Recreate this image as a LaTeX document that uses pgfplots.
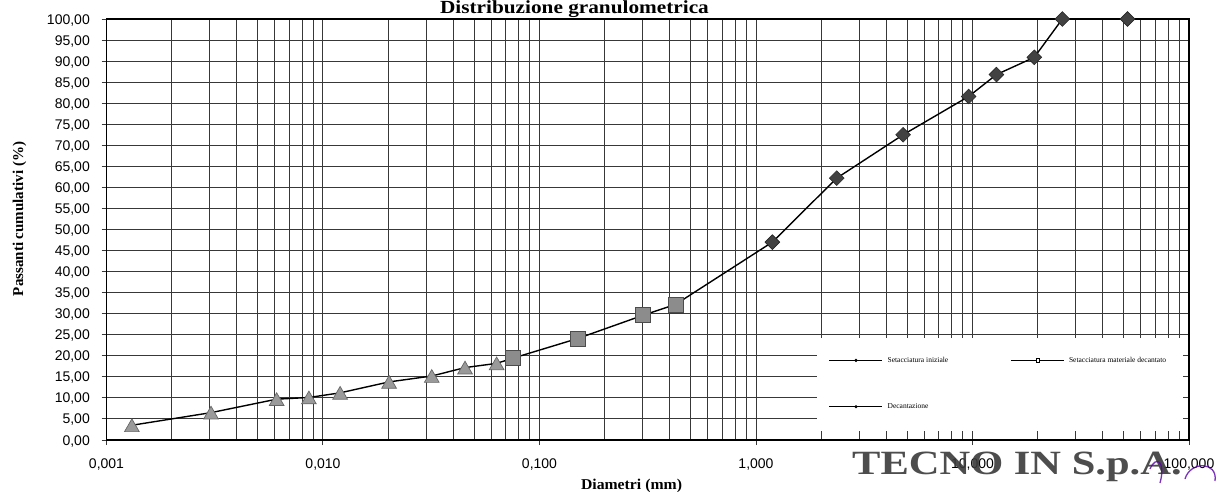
\documentclass[border=0pt]{standalone}
\usepackage{fontspec}
\setmainfont{Liberation Serif}
\setsansfont{Liberation Sans}
\usepackage{pgfplots}
\pgfplotsset{compat=1.18}

\definecolor{gridc}{HTML}{383838}
\definecolor{trifill}{HTML}{9A9A9A}
\definecolor{sqfill}{HTML}{8C8C8C}
\definecolor{diafill}{HTML}{424242}
\definecolor{stampc}{HTML}{3A3A3A}

\begin{document}
\begin{tikzpicture}[x=1pt,y=1pt]
\useasboundingbox (0,0) rectangle (1221,491);
\begin{axis}[
  at={(106.5pt,51pt)}, anchor=south west,
  scale only axis, width=1082.5pt, height=421pt,
  xmode=log, xmin=0.001, xmax=100, ymin=0, ymax=100,
  xtick={0.001,0.01,0.1,1,10,100},
  xticklabels={{0,001},{0,010},{0,100},{1,000},{10,000},{100,000}},
  minor xtick={0.002,0.003,0.004,0.005,0.006,0.007,0.008,0.009,
               0.02,0.03,0.04,0.05,0.06,0.07,0.08,0.09,
               0.2,0.3,0.4,0.5,0.6,0.7,0.8,0.9,
               2,3,4,5,6,7,8,9,20,30,40,50,60,70,80,90},
  ytick={0,5,...,100},
  yticklabels={{0,00},{5,00},{10,00},{15,00},{20,00},{25,00},{30,00},
               {35,00},{40,00},{45,00},{50,00},{55,00},{60,00},{65,00},
               {70,00},{75,00},{80,00},{85,00},{90,00},{95,00},{100,00}},
  grid=both,
  major grid style={gridc, line width=1pt},
  minor grid style={gridc, line width=1pt},
  tick pos=left, tick align=outside,
  major tick length=5pt, minor tick length=0pt,
  tick style={gridc, line width=1pt},
  axis line style={black, line width=1.4pt},
  xticklabel style={font=\sffamily\fontsize{14}{14}\selectfont, anchor=base, inner sep=0pt, yshift=-23pt},
  yticklabel style={font=\sffamily\fontsize{14}{14}\selectfont, anchor=base east, inner sep=0pt, xshift=-11.5pt, yshift=-5pt},
  every axis title shift=0pt,
  title={\scalebox{1.15}[1]{Distribuzione granulometrica}},
  title style={at={(0.4323,1.0119)}, anchor=base, inner sep=0pt, font=\bfseries\fontsize{18.5}{18.5}\selectfont},
  xlabel={\scalebox{1.05}[1]{Diametri (mm)}},
  xlabel style={at={(0.485,-0.1164)}, anchor=base, inner sep=0pt, font=\bfseries\fontsize{15}{15}\selectfont},
  ylabel={Passanti cumulativi (\%)},
  ylabel style={at={(-0.0771,0.5249)}, anchor=base, rotate=0, inner sep=0pt, font=\bfseries\fontsize{15}{15}\selectfont},
  legend columns=2,
  legend cell align=left,
  legend style={at={(0.6564,0.021)}, anchor=south west, draw=none, fill=white,
                inner sep=0pt, column sep=0pt, row sep=0pt,
                nodes={inner sep=0pt},
                font=\fontsize{7.5}{8}\selectfont},
]
% connecting line through the whole grading curve
\addplot[black, line width=1.4pt, forget plot] coordinates {
  (0.00131,3.5) (0.00304,6.5) (0.00611,9.7) (0.00861,10.1) (0.0120,11.2)
  (0.0202,13.8) (0.0318,15.2) (0.0453,17.2) (0.0634,18.2)
  (0.075,19.4) (0.15,24.1) (0.30,29.6) (0.425,32.2)
  (1.19,47.0) (2.36,62.2) (4.78,72.5) (9.6,81.6) (12.9,86.8)
  (19.3,90.9) (26.0,100.0) (52.0,100.0)
};
% sieving of the initial sample
\addplot[only marks, mark=square*, mark size=5.2pt,
  mark options={rotate=45, fill=diafill, draw=black!85, line width=0.6pt},
  legend image code/.code={
    \path (-12pt,-24pt) (58pt,22pt);
    \draw[black, line width=1.3pt] (0pt,0pt) -- (53pt,0pt);
    \fill[black] (26.5pt,0pt) circle (1.4pt);
  }] coordinates {
  (1.19,47.0) (2.36,62.2) (4.78,72.5) (9.6,81.6) (12.9,86.8)
  (19.3,90.9) (26.0,100.0) (52.0,100.0)
};
\addlegendentry{\makebox[111pt][l]{Setacciatura iniziale}}
% sieving of the decanted material
\addplot[only marks, mark=square*, mark size=7.5pt,
  mark options={fill=sqfill, draw=black!70, line width=0.8pt},
  legend image code/.code={
    \path (-12pt,-24pt) (58pt,22pt);
    \draw[black, line width=1.3pt] (0pt,0pt) -- (53pt,0pt);
    \filldraw[fill=white, draw=black, line width=0.6pt] (25pt,-1.6pt) rectangle (28.2pt,1.6pt);
  }] coordinates {
  (0.075,19.4) (0.15,24.1) (0.30,29.6) (0.425,32.2)
};
\addlegendentry{\makebox[114pt][l]{Setacciatura materiale decantato}}
% sedimentation
\addplot[only marks, mark=triangle*, mark size=8.5pt,
  mark options={fill=trifill, draw=black!60, line width=0.7pt, yshift=-2.1pt},
  legend image code/.code={
    \path (-12pt,-24pt) (58pt,22pt);
    \draw[black, line width=1.3pt] (0pt,0pt) -- (53pt,0pt);
    \fill[black] (26.5pt,0pt) circle (1.4pt);
  }] coordinates {
  (0.00131,3.5) (0.00304,6.5) (0.00611,9.7) (0.00861,10.1) (0.0120,11.2)
  (0.0202,13.8) (0.0318,15.2) (0.0453,17.2) (0.0634,18.2)
};
\addlegendentry{Decantazione}
\end{axis}
% company stamp
\node[anchor=base west, inner sep=0pt, text=stampc, opacity=0.9,
      font=\bfseries\fontsize{34}{34}\selectfont] at (852,17)
  {\scalebox{1.25}[1]{TECNO IN S.p.A.}};
\draw[violet!70!blue, line width=1.3pt, opacity=0.8]
  (1150,22) .. controls (1156,36) and (1166,30) .. (1160,8)
  (1185,12) .. controls (1190,30) and (1218,30) .. (1215,10);
\end{tikzpicture}
\end{document}
